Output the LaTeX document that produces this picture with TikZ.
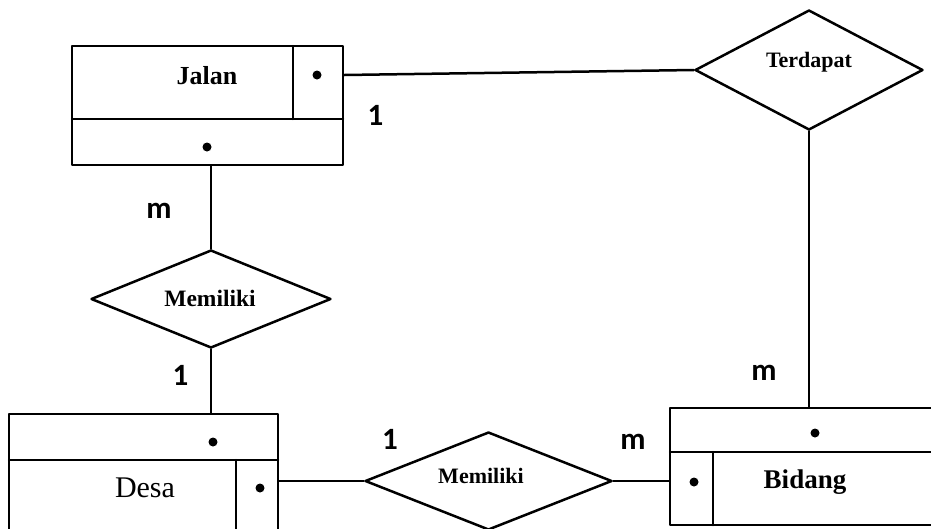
\documentclass[tikz,border=0pt]{standalone}
\usepackage{fontspec}
\setmainfont{Liberation Serif}
\newfontfamily\cardfont{Carlito}
\usetikzlibrary{shapes.geometric}
\tikzset{
  line/.style={line width=2.5pt, line cap=round, line join=round},
  entity/.style={line, draw, rectangle, inner sep=0pt},
  rel/.style={line, draw, diamond, inner sep=0pt},
  attrdot/.style={fill, circle, inner sep=0pt, minimum size=9pt},
  entname/.style={anchor=base, inner sep=0pt, font=\fontsize{26}{30}\selectfont\bfseries},
  relname/.style={anchor=base, inner sep=0pt, font=\fontsize{22}{26}\selectfont\bfseries},
  card/.style={anchor=base, inner sep=0pt, font=\fontsize{31}{36}\selectfont\cardfont\bfseries},
}
\begin{document}
\begin{tikzpicture}[x=1pt, y=-1pt]
  \useasboundingbox (0,0) rectangle (931,528);
  \clip (0,0) rectangle (931,528);

  % Entity: Jalan
  \node[entity, minimum width=271pt, minimum height=119pt] (jalan) at (207.5,105.5) {};
  \draw[line] (72,119) -- (343,119);
  \draw[line] (293,46) -- (293,119);
  \node[attrdot] (jalankey) at (317,75) {};
  \node[attrdot] (jalanattr) at (207,147) {};
  \node[entname] (jalanname) at (207,84) {Jalan};

  % Entity: Desa
  \node[entity, minimum width=269pt, minimum height=126pt] (desa) at (143.5,477) {};
  \draw[line] (9,460) -- (278,460);
  \draw[line] (236,460) -- (236,540);
  \node[attrdot] (desaattr) at (213,442) {};
  \node[attrdot] (desakey) at (260,488) {};
  \node[entname, font=\fontsize{30}{34}\selectfont] (desaname) at (145,497) {Desa};

  % Entity: Bidang
  \node[entity, minimum width=275pt, minimum height=117pt] (bidang) at (807.5,466.5) {};
  \draw[line] (670,452) -- (945,452);
  \draw[line] (713,452) -- (713,525);
  \node[attrdot] (bidangattr) at (815,433) {};
  \node[attrdot] (bidangkey) at (694,482) {};
  \node[entname, font=\fontsize{27}{31}\selectfont\bfseries] (bidangname) at (805,488) {Bidang};

  % Relationships
  \node[rel, minimum width=228pt, minimum height=120pt] (terdapat) at (809,70) {};
  \node[relname] at (809,67) {Terdapat};
  \node[rel, minimum width=240pt, minimum height=98pt] (memiliki1) at (211,299) {};
  \node[relname, font=\fontsize{23.5}{27}\selectfont\bfseries] at (210,306) {Memiliki};
  \node[rel, minimum width=247pt, minimum height=98pt] (memiliki2) at (488.5,481) {};
  \node[relname] at (481,483) {Memiliki};

  % Connectors
  \draw[line] (jalan.east |- jalankey) -- (terdapat.west);
  \draw[line] (terdapat.south) -- (terdapat.south |- bidang.north);
  \draw[line] (jalan.south -| memiliki1.north) -- (memiliki1.north);
  \draw[line] (memiliki1.south) -- (memiliki1.south |- desa.north);
  \draw[line] (desa.east |- memiliki2.west) -- (memiliki2.west);
  \draw[line] (memiliki2.east) -- (bidang.west |- memiliki2.east);

  % Cardinalities
  \node[card] (c1) at (375.5,125) {1};
  \node[card] (c2) at (159,218) {m};
  \node[card] (c3) at (180.5,385) {1};
  \node[card] (c4) at (764,380) {m};
  \node[card] (c5) at (390,449) {1};
  \node[card] (c6) at (633,449) {m};
\end{tikzpicture}
\end{document}
